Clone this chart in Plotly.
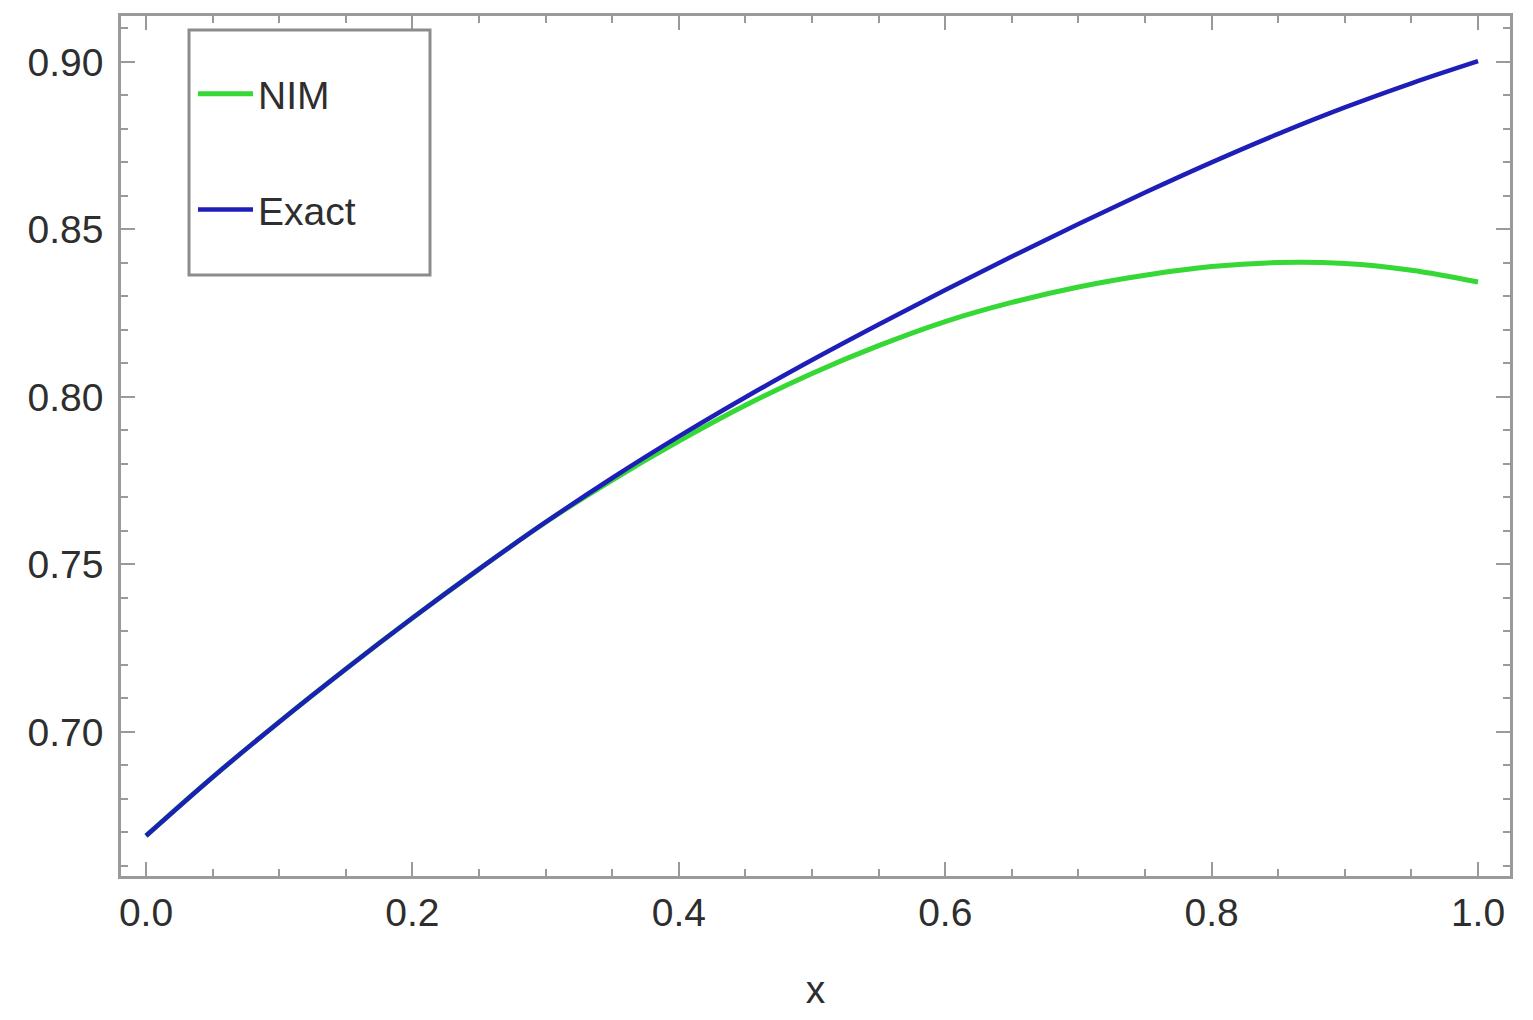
import plotly.graph_objects as go

# ---- data ----
x_vals = [0.00, 0.05, 0.10, 0.15, 0.20, 0.25, 0.30, 0.35, 0.40, 0.45, 0.50,
          0.55, 0.60, 0.65, 0.70, 0.75, 0.80, 0.85, 0.90, 0.95, 1.00]
exact_vals = [0.669, 0.6865, 0.703, 0.7188, 0.734, 0.7486, 0.7626, 0.7758, 0.7882, 0.7999, 0.8110,
              0.8216, 0.8319, 0.8419, 0.8516, 0.8610, 0.8700, 0.8785, 0.8864, 0.8936, 0.9002]
nim_vals = [0.669, 0.6865, 0.703, 0.7188, 0.734, 0.7486, 0.7626, 0.7752, 0.7868, 0.7975, 0.8070,
            0.8153, 0.8225, 0.8282, 0.8328, 0.8363, 0.8389, 0.8401, 0.8398, 0.8378, 0.8343]

x_ticks = [0.0, 0.2, 0.4, 0.6, 0.8, 1.0]
x_ticklabels = ["0.0", "0.2", "0.4", "0.6", "0.8", "1.0"]
y_ticks = [0.70, 0.75, 0.80, 0.85, 0.90]
y_ticklabels = ["0.70", "0.75", "0.80", "0.85", "0.90"]

FONT = "Liberation Sans, Arial, sans-serif"
TXT = "#2e2e2e"
FRAME = "#9a9a9a"
FS = 39

fig = go.Figure()
fig.add_trace(go.Scatter(x=x_vals, y=nim_vals, mode="lines", name="NIM",
                         line=dict(color="#35d835", width=5, shape="spline"),
                         legendgroup="g1"))
fig.add_trace(go.Scatter(x=x_vals, y=exact_vals, mode="lines", name="Exact",
                         line=dict(color="#1e1eb8", width=4.5, shape="spline"),
                         legendgroup="g2"))

W, H = 1533, 1020
L, R, T, B = 121, 23, 16, 144
pw, ph = W - L - R, H - T - B

def px_x(p):
    return (p - L) / pw

def px_y(p):
    return (H - B - p) / ph

axis_common = dict(
    showline=True, linecolor=FRAME, linewidth=2.5, mirror="ticks",
    ticks="inside", tickcolor=FRAME, tickwidth=2, ticklen=14,
    showgrid=False, zeroline=False,
    tickfont=dict(family=FONT, size=FS, color=TXT),
)

fig.update_layout(
    width=W, height=H,
    margin=dict(l=L, r=R, t=T, b=B, pad=0),
    paper_bgcolor="white", plot_bgcolor="white",
    font=dict(family=FONT, size=FS, color=TXT),
    xaxis=dict(range=[-0.0188, 1.024], tickvals=x_ticks, ticktext=x_ticklabels,
               minor=dict(dtick=0.05, tick0=0, ticks="inside", ticklen=7,
                          tickcolor=FRAME, tickwidth=2),
               title=dict(text="x", font=dict(family=FONT, size=FS, color=TXT),
                          standoff=44),
               **axis_common),
    yaxis=dict(range=[0.657, 0.9137], tickvals=y_ticks, ticktext=y_ticklabels,
               minor=dict(dtick=0.01, tick0=0.7, ticks="inside", ticklen=7,
                          tickcolor=FRAME, tickwidth=2),
               ticklabelstandoff=7,
               **axis_common),
    showlegend=True,
    legend=dict(x=px_x(193), y=px_y(62), xanchor="left", yanchor="top",
                bgcolor="rgba(0,0,0,0)", borderwidth=0,
                font=dict(family=FONT, size=FS, color=TXT),
                itemwidth=55, tracegroupgap=62, traceorder="grouped"),
    shapes=[dict(type="rect", xref="paper", yref="paper",
                 x0=px_x(189), x1=px_x(430), y0=px_y(275), y1=px_y(30),
                 line=dict(color="#8c8c8c", width=3), fillcolor="rgba(0,0,0,0)",
                 layer="above")],
)

fig.write_html("out.html", config={"displayModeBar": False},
               post_script="document.body.style.margin='0';")
